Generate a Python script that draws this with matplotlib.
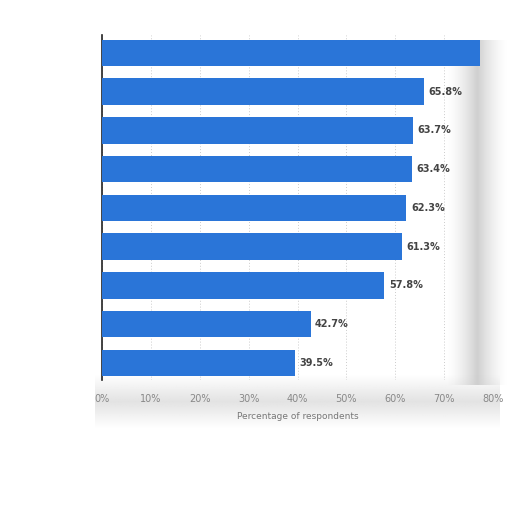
import matplotlib
matplotlib.use("Agg")
import matplotlib.pyplot as plt
import numpy as np

values = [77.3, 65.8, 63.7, 63.4, 62.3, 61.3, 57.8, 42.7, 39.5]
labels = ["", "65.8%", "63.7%", "63.4%", "62.3%", "61.3%", "57.8%", "42.7%", "39.5%"]
xticks = [0, 10, 20, 30, 40, 50, 60, 70, 80]
xticklabels = ["0%", "10%", "20%", "30%", "40%", "50%", "60%", "70%", "80%"]

fig = plt.figure(figsize=(5.12, 5.12), dpi=100)
fig.patch.set_facecolor("white")

# shadow-like gray background on right side and bottom
bg = fig.add_axes([0, 0, 1, 1], zorder=0)
bg.set_xlim(0, 512); bg.set_ylim(512, 0); bg.axis("off")
grad = np.ones((10, 100, 4))
cols = np.linspace(0, 1, 100)
grad[..., :3] = 0.75
alpha = np.clip(1 - np.abs(cols - 0.55) / 0.45, 0, 1) ** 1.5 * 0.75
grad[..., 3] = alpha[None, :]
bg.imshow(grad, extent=(440, 508, 385, 40), aspect="auto", zorder=0)
gradb = np.ones((100, 10, 4))
gradb[..., :3] = 0.8
rows = np.linspace(0, 1, 100)
gradb[..., 3] = (np.clip(1 - np.abs(rows - 0.5) / 0.5, 0, 1) * 0.55)[:, None]
bg.imshow(gradb, extent=(95, 500, 428, 375), aspect="auto", zorder=0)

ax = fig.add_axes([102/512, 1-380/512, 391/512, 345/512], zorder=1)
ax.patch.set_alpha(0)
y = np.arange(len(values))
ax.barh(y, values, height=0.68, color="#2a75d8", zorder=3)
for yi, v, lab in zip(y, values, labels):
    if lab:
        ax.text(v + 0.9, yi, lab, va="center", ha="left", fontsize=7,
                fontweight="bold", color="#444444", zorder=4)
ax.set_xlim(0, 80)
ax.set_ylim(8.44, -0.46)
ax.set_xticks(xticks)
ax.set_xticklabels(xticklabels, fontsize=7, color="#888888")
ax.set_yticks([])
ax.tick_params(axis="x", length=0, pad=10)
ax.grid(axis="x", color="#cccccc", linestyle=(0, (1, 2)), linewidth=0.7, zorder=0)
for s in ["top", "right", "bottom"]:
    ax.spines[s].set_visible(False)
ax.spines["left"].set_color("#222222")
ax.spines["left"].set_linewidth(1.2)
ax.set_xlabel("Percentage of respondents", fontsize=6.5, color="#777777", labelpad=6)

fig.savefig("out.png", dpi=100)
